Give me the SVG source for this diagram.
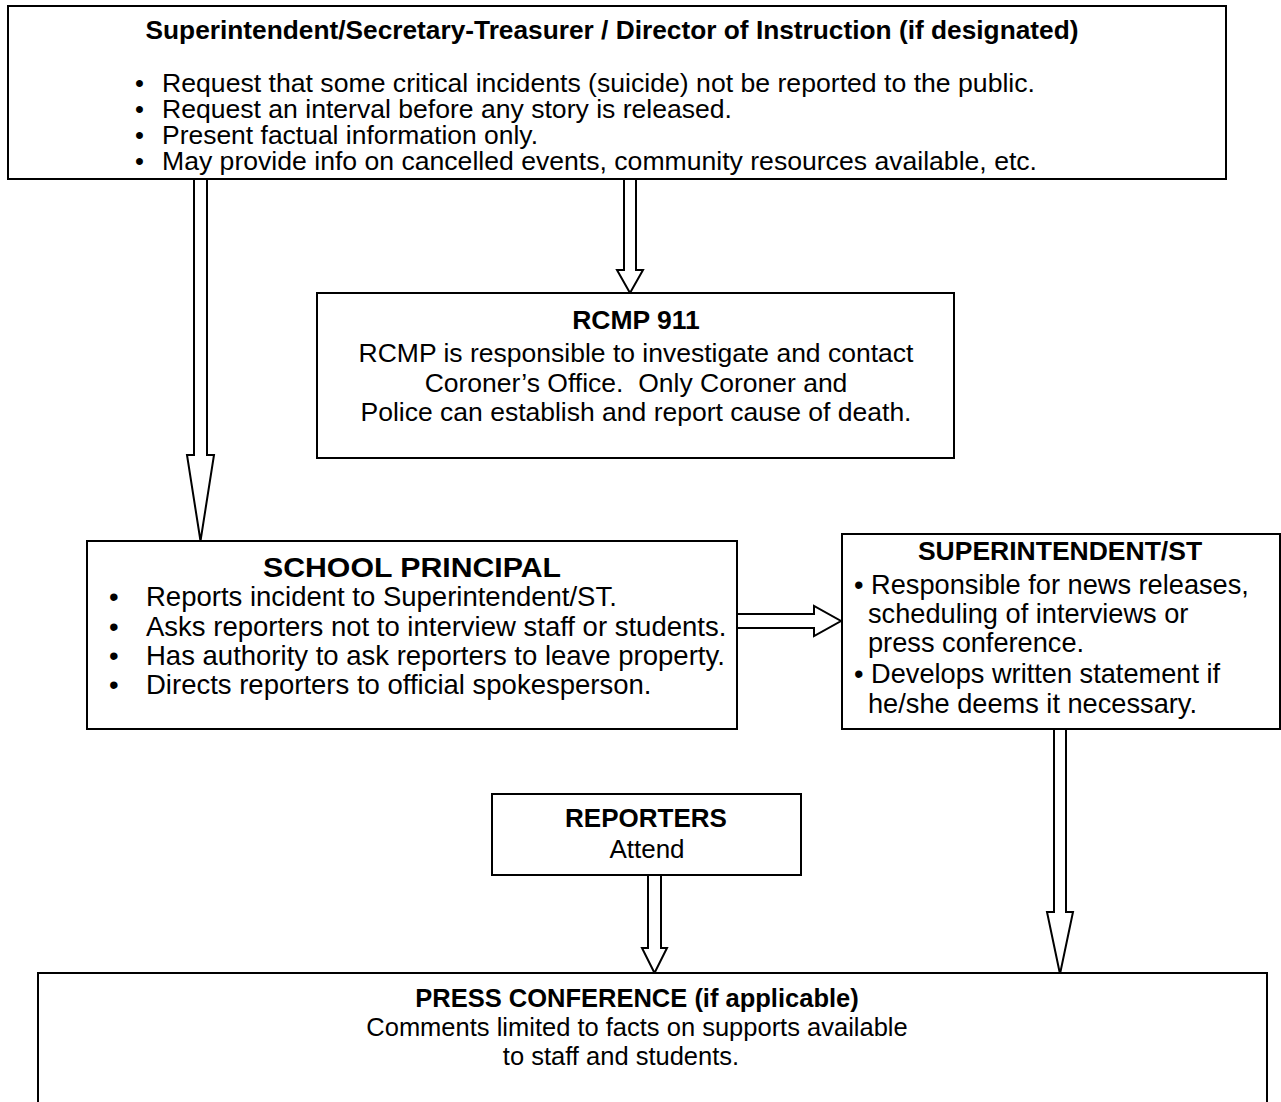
<svg xmlns="http://www.w3.org/2000/svg" width="1281" height="1102" viewBox="0 0 1281 1102">
<style>
.box{fill:#fff;stroke:#000;stroke-width:2}
.arr{fill:#fff;stroke:#000;stroke-width:2;stroke-linejoin:miter}
text{font-family:"Liberation Sans",Arial,sans-serif;fill:#000}
.b{font-weight:bold}
.c{text-anchor:middle}
.pre{white-space:pre}
</style>
<rect width="1281" height="1102" fill="#fff"/>
<g id="connectors">
<polygon class="arr" points="194,179 207,179 207,455 214,455 200.5,541 187,455 194,455"/>
<polygon class="arr" points="624,179 636,179 636,270 643,270 630,293 617,270 624,270"/>
<polygon class="arr" points="737,614 814,614 814,606 841,621 814,636 814,628 737,628"/>
<polygon class="arr" points="1054,729 1066,729 1066,912 1073,912 1060,974 1047,912 1054,912"/>
<polygon class="arr" points="648,875 661,875 661,948 667,948 654.5,973 642,948 648,948"/>
</g>
<g id="top" font-size="25.5">
<rect class="box" x="8" y="6" width="1218" height="173"/>
<text class="b c" x="612" y="39" font-size="26" textLength="933" lengthAdjust="spacingAndGlyphs">Superintendent/Secretary-Treasurer / Director of Instruction (if designated)</text>
<text x="135" y="92">•</text><text x="162" y="92" textLength="873" lengthAdjust="spacingAndGlyphs">Request that some critical incidents (suicide) not be reported to the public.</text>
<text x="135" y="118">•</text><text x="162" y="118" textLength="570" lengthAdjust="spacingAndGlyphs">Request an interval before any story is released.</text>
<text x="135" y="144">•</text><text x="162" y="144" textLength="376" lengthAdjust="spacingAndGlyphs">Present factual information only.</text>
<text x="135" y="170">•</text><text x="162" y="170" textLength="875" lengthAdjust="spacingAndGlyphs">May provide info on cancelled events, community resources available, etc.</text>
</g>
<g id="rcmp" font-size="26.5">
<rect class="box" x="317" y="293" width="637" height="165"/>
<text class="b c" x="636" y="329">RCMP 911</text>
<text class="c" x="636" y="362">RCMP is responsible to investigate and contact</text>
<text class="c pre" x="636" y="392" xml:space="preserve">Coroner’s Office.  Only Coroner and</text>
<text class="c" x="636" y="421">Police can establish and report cause of death.</text>
</g>
<g id="principal" font-size="27.5">
<rect class="box" x="87" y="541" width="650" height="188"/>
<text class="b c" x="412" y="577" textLength="298" lengthAdjust="spacingAndGlyphs">SCHOOL PRINCIPAL</text>
<text x="109" y="606">•</text><text x="146" y="606">Reports incident to Superintendent/ST.</text>
<text x="109" y="636">•</text><text x="146" y="636">Asks reporters not to interview staff or students.</text>
<text x="109" y="665">•</text><text x="146" y="665">Has authority to ask reporters to leave property.</text>
<text x="109" y="694">•</text><text x="146" y="694">Directs reporters to official spokesperson.</text>
</g>
<g id="superintendent" font-size="27.2">
<rect class="box" x="842" y="534" width="438" height="195"/>
<text class="b c" x="1060" y="560" font-size="26.5">SUPERINTENDENT/ST</text>
<text x="854" y="594">• Responsible for news releases,</text>
<text x="868" y="623">scheduling of interviews or</text>
<text x="868" y="652">press conference.</text>
<text x="854" y="683">• Develops written statement if</text>
<text x="868" y="713">he/she deems it necessary.</text>
</g>
<g id="reporters" font-size="26">
<rect class="box" x="492" y="794" width="309" height="81"/>
<text class="b c" x="646" y="827">REPORTERS</text>
<text class="c" x="647" y="858">Attend</text>
</g>
<g id="press" font-size="25.5">
<rect class="box" x="38" y="973" width="1229" height="140"/>
<text class="b c" x="637" y="1007">PRESS CONFERENCE (if applicable)</text>
<text class="c" x="637" y="1036">Comments limited to facts on supports available</text>
<text class="c" x="621" y="1065">to staff and students.</text>
</g>
</svg>
